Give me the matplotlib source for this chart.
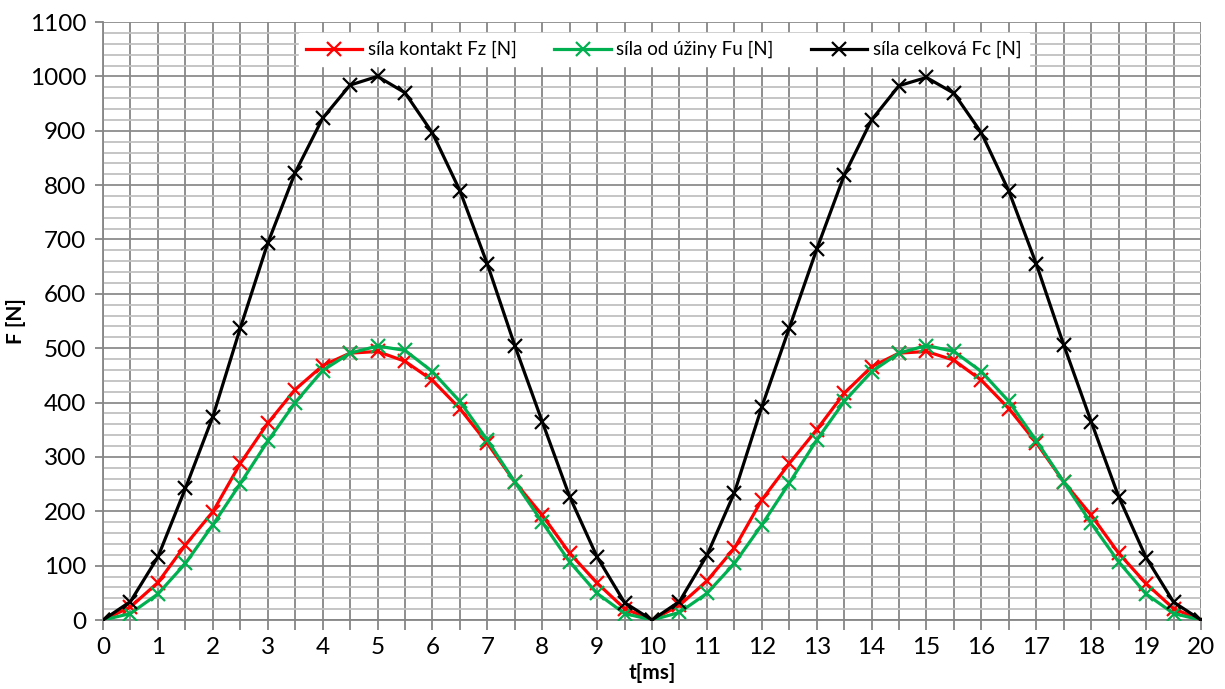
import numpy as np
import matplotlib
matplotlib.use("Agg")
import matplotlib.pyplot as plt
from matplotlib.ticker import MultipleLocator

plt.rcParams['font.family'] = ['Lato', 'DejaVu Sans']

# time [ms]
t = [0, 0.5, 1, 1.5, 2, 2.5, 3, 3.5, 4, 4.5, 5, 5.5, 6, 6.5, 7, 7.5, 8, 8.5, 9, 9.5,
     10, 10.5, 11, 11.5, 12, 12.5, 13, 13.5, 14, 14.5, 15, 15.5, 16, 16.5, 17, 17.5, 18, 18.5, 19, 19.5, 20]

# sila kontakt Fz [N]
fz = [0, 24, 69, 138, 199, 288, 362, 424, 468, 491, 494, 476, 441, 389, 325, 254, 193, 123, 68, 21,
      0, 27, 72, 132, 221, 288, 350, 417, 466, 491, 494, 478, 441, 389, 326, 254, 193, 123, 67, 21, 0]

# sila od uziny Fu [N]
fu = [0, 12, 48, 104, 175, 251, 329, 400, 459, 491, 504, 496, 457, 402, 331, 254, 180, 107, 49, 12,
      0, 14, 49, 104, 175, 252, 331, 402, 457, 491, 505, 494, 457, 402, 330, 254, 178, 107, 48, 12, 0]

# sila celkova Fc [N]
fc = [0, 34, 116, 242, 374, 537, 693, 823, 923, 984, 1000, 970, 896, 790, 655, 505, 365, 227, 116, 32,
      0, 34, 119, 234, 392, 537, 682, 818, 920, 983, 998, 969, 896, 789, 655, 506, 365, 227, 115, 33, 0]

labels = ["síla kontakt Fz [N]", "síla od úžiny Fu [N]", "síla celková Fc [N]"]
colors = ["#FF0000", "#00B050", "#000000"]

fig = plt.figure(figsize=(12.25, 6.89), dpi=100)
ax = fig.add_axes([0.0841, 0.1001, 0.8963, 0.8679])

for y, lab, c in zip([fz, fu, fc], labels, colors):
    ax.plot(t, y, color=c, lw=2.3, marker="x", ms=10, mew=1.6, label=lab, zorder=3)

ax.set_xlim(0, 20)
ax.set_ylim(0, 1100)
ax.xaxis.set_major_locator(MultipleLocator(1))
ax.xaxis.set_minor_locator(MultipleLocator(0.5))
ax.yaxis.set_major_locator(MultipleLocator(100))
ax.yaxis.set_minor_locator(MultipleLocator(20))

ax.grid(which="major", axis="x", color="#868686", lw=1.3)
ax.grid(which="minor", axis="x", color="#868686", lw=1.3)
ax.grid(which="major", axis="y", color="#8c8c8c", lw=1.3)
ax.grid(which="minor", axis="y", color="#c0c0c0", lw=1.3)
ax.set_axisbelow(True)

for s in ["top", "right"]:
    ax.spines[s].set_visible(False)
for s in ["left", "bottom"]:
    ax.spines[s].set_color("#868686")
    ax.spines[s].set_linewidth(1.3)

ax.tick_params(axis="x", which="both", length=7, width=1.3, color="#868686", labelsize=17.5, pad=5)
ax.tick_params(axis="y", which="major", length=6, width=1.3, color="#868686", labelsize=17.5, pad=6)
ax.tick_params(axis="y", which="minor", length=0)

ax.set_xlabel("t[ms]", fontsize=15, fontweight="bold")
ax.xaxis.set_label_coords(0.5, -0.072)
ax.set_ylabel("F [N]", fontsize=15, fontweight="bold")
ax.yaxis.set_label_coords(-0.07, 0.5)

leg = ax.legend(loc="upper center", bbox_to_anchor=(0.542, 0.965), bbox_transform=fig.transFigure,
                ncol=3, fontsize=13.5, frameon=True, fancybox=False, framealpha=1,
                edgecolor="white", handlelength=3.0, handletextpad=0.3, columnspacing=2.0,
                borderpad=0.4)

fig.savefig("out.png", dpi=100)
